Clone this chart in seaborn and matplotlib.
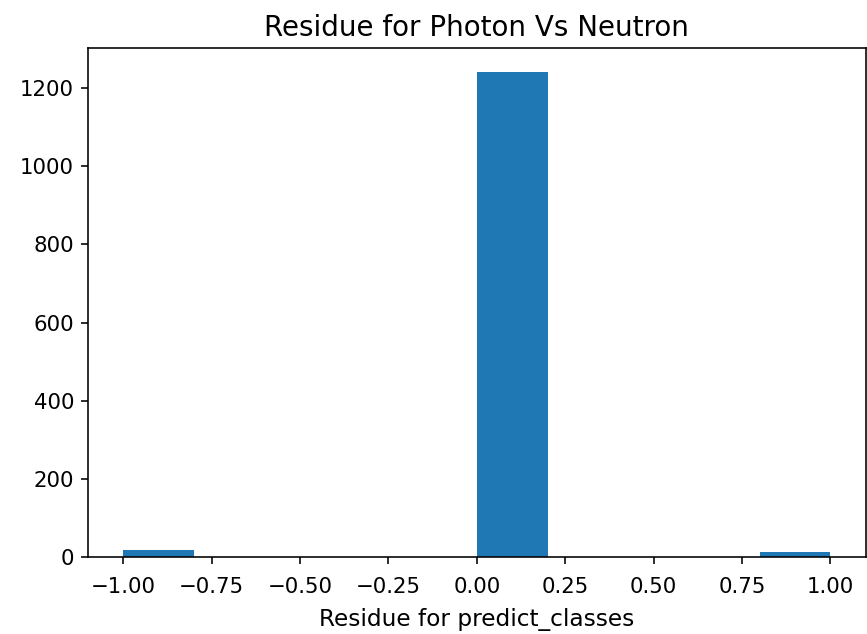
import numpy as np
import matplotlib
matplotlib.use("Agg")
import matplotlib.pyplot as plt
import seaborn as sns

# residue values (true - predicted) and how many samples landed on each
residue_values = [-1.0, 0.0, 1.0]
residue_counts = [18, 1240, 13]

TITLE = "Residue for Photon Vs Neutron"
XLABEL = "Residue for predict_classes"

residues = np.repeat(residue_values, residue_counts)

fig, ax = plt.subplots(figsize=(867 / 144, 634 / 144), dpi=144)
sns.histplot(x=residues, bins=10, binrange=(-1, 1), color="#1f77b4",
             alpha=1, linewidth=0, ax=ax)
ax.set_title(TITLE, fontsize=13.9)
ax.set_xlabel(XLABEL, fontsize=11.6, labelpad=5.5)
ax.set_ylabel("")
xt = np.arange(-1.0, 1.01, 0.25)
ax.set_xticks(xt)
ax.set_xticklabels([f"{t:.2f}".replace("-", "\u2212") for t in xt])
ax.tick_params(labelsize=10.6)
ax.tick_params(axis="x", pad=6.5)

fig.subplots_adjust(left=0.1015, right=0.9985, top=0.924, bottom=0.1215)
fig.savefig("out.png", dpi=144)
